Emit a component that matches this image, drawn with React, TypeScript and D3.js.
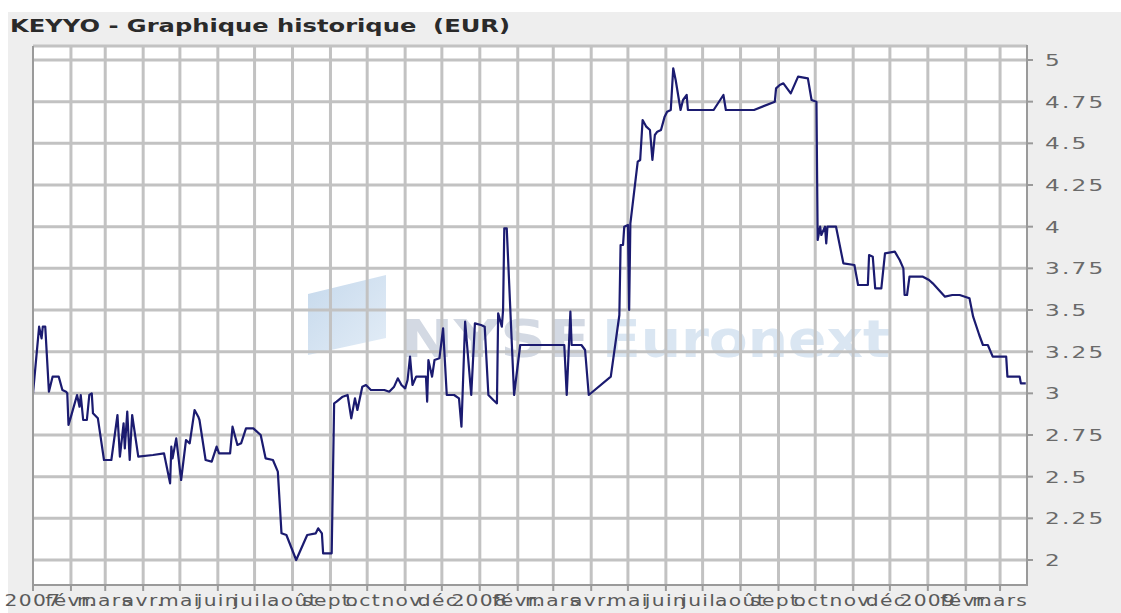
import React from 'react';
import * as d3 from 'd3';

// KEYYO close prices
const dates = [
  '2007-01-01', '2007-01-06', '2007-01-08', '2007-01-09', '2007-01-11', '2007-01-14', '2007-01-17', '2007-01-22', '2007-01-25', '2007-01-28', '2007-01-29', '2007-01-30',
  '2007-02-01', '2007-02-06', '2007-02-08', '2007-02-09', '2007-02-11', '2007-02-14', '2007-02-16', '2007-02-18', '2007-02-19', '2007-02-23', '2007-02-28',
  '2007-03-06', '2007-03-11', '2007-03-13', '2007-03-16', '2007-03-17', '2007-03-19', '2007-03-21', '2007-03-23', '2007-03-28',
  '2007-04-09', '2007-04-18', '2007-04-23', '2007-04-24', '2007-04-25', '2007-04-28',
  '2007-05-02', '2007-05-06', '2007-05-09', '2007-05-13', '2007-05-16', '2007-05-17', '2007-05-22', '2007-05-27', '2007-05-31',
  '2007-06-02', '2007-06-11', '2007-06-13', '2007-06-17', '2007-06-20', '2007-06-24', '2007-06-30',
  '2007-07-06', '2007-07-10', '2007-07-16', '2007-07-20', '2007-07-23', '2007-07-27',
  '2007-08-04', '2007-08-13', '2007-08-20', '2007-08-22', '2007-08-25', '2007-08-26',
  '2007-09-02', '2007-09-04', '2007-09-06', '2007-09-11', '2007-09-15', '2007-09-18', '2007-09-21', '2007-09-23', '2007-09-27', '2007-09-30',
  '2007-10-04', '2007-10-15', '2007-10-19', '2007-10-23', '2007-10-26', '2007-10-29',
  '2007-11-01', '2007-11-03', '2007-11-05', '2007-11-07', '2007-11-10', '2007-11-18', '2007-11-19', '2007-11-20', '2007-11-23', '2007-11-25', '2007-11-29',
  '2007-12-02', '2007-12-05', '2007-12-11', '2007-12-15', '2007-12-17', '2007-12-20', '2007-12-25', '2007-12-28',
  '2008-01-02', '2008-01-05', '2008-01-08', '2008-01-12', '2008-01-15', '2008-01-16', '2008-01-19', '2008-01-20', '2008-01-21', '2008-01-23', '2008-01-29',
  '2008-02-03', '2008-03-10', '2008-03-12', '2008-03-15', '2008-03-16', '2008-03-24', '2008-03-27', '2008-03-30',
  '2008-04-17', '2008-04-24', '2008-04-25', '2008-04-27', '2008-04-28',
  '2008-05-01', '2008-05-02', '2008-05-03', '2008-05-09', '2008-05-11', '2008-05-13', '2008-05-16', '2008-05-19', '2008-05-21', '2008-05-23', '2008-05-25', '2008-05-28', '2008-05-31',
  '2008-06-02', '2008-06-05', '2008-06-07', '2008-06-09', '2008-06-13', '2008-06-15', '2008-06-18', '2008-06-19',
  '2008-07-10', '2008-07-18', '2008-07-20', '2008-08-12', '2008-08-29', '2008-08-30',
  '2008-09-02', '2008-09-05', '2008-09-08', '2008-09-11', '2008-09-17', '2008-09-25', '2008-09-28',
  '2008-10-02', '2008-10-03', '2008-10-05', '2008-10-06', '2008-10-09', '2008-10-10', '2008-10-11', '2008-10-18', '2008-10-24',
  '2008-11-02', '2008-11-05', '2008-11-13', '2008-11-14', '2008-11-17', '2008-11-19', '2008-11-24', '2008-11-27',
  '2008-12-05', '2008-12-09', '2008-12-12', '2008-12-13', '2008-12-15', '2008-12-17', '2008-12-28',
  '2009-01-02', '2009-01-05', '2009-01-15', '2009-01-21', '2009-01-27',
  '2009-02-04', '2009-02-07', '2009-02-12', '2009-02-15', '2009-02-19', '2009-02-23',
  '2009-03-06', '2009-03-07', '2009-03-17', '2009-03-18', '2009-03-22'
];

const prices = [
  3.00, 3.40, 3.33, 3.40, 3.40, 3.01, 3.10, 3.10, 3.02, 3.01, 3.00, 2.81,
  2.86, 2.99, 2.92, 2.99, 2.84, 2.84, 2.99, 3.00, 2.88, 2.85, 2.60,
  2.60, 2.87, 2.62, 2.82, 2.67, 2.89, 2.60, 2.87, 2.62,
  2.63, 2.64, 2.46, 2.68, 2.61, 2.73,
  2.48, 2.72, 2.70, 2.90, 2.86, 2.84, 2.60, 2.59, 2.68,
  2.64, 2.64, 2.80, 2.69, 2.70, 2.79, 2.79,
  2.75, 2.61, 2.60, 2.53, 2.16, 2.15,
  2.00, 2.15, 2.16, 2.19, 2.16, 2.04,
  2.04, 2.94, 2.95, 2.98, 2.99, 2.85, 2.97, 2.90, 3.04, 3.05,
  3.02, 3.02, 3.01, 3.04, 3.09, 3.05,
  3.03, 3.08, 3.22, 3.05, 3.10, 3.10, 2.95, 3.20, 3.10, 3.20, 3.21,
  3.39, 2.99, 2.99, 2.97, 2.80, 3.43, 2.99, 3.42,
  3.41, 3.40, 2.99, 2.96, 2.94, 3.48, 3.40, 3.50, 3.99, 3.99, 2.99,
  3.29, 3.29, 2.99, 3.49, 3.29, 3.29, 3.26, 2.99,
  3.10, 3.47, 3.89, 3.89, 4.00,
  4.01, 3.50, 4.02, 4.39, 4.40, 4.64, 4.60, 4.58, 4.40, 4.55, 4.57, 4.58, 4.66,
  4.69, 4.70, 4.95, 4.88, 4.70, 4.76, 4.79, 4.70,
  4.70, 4.79, 4.70, 4.70, 4.75, 4.83,
  4.85, 4.86, 4.83, 4.80, 4.90, 4.89, 4.76,
  4.75, 3.92, 4.00, 3.95, 4.00, 3.90, 4.00, 4.00, 3.78,
  3.77, 3.65, 3.65, 3.83, 3.82, 3.63, 3.63, 3.84,
  3.85, 3.80, 3.75, 3.59, 3.59, 3.70, 3.70,
  3.68, 3.66, 3.58, 3.59, 3.59,
  3.57, 3.46, 3.35, 3.29, 3.29, 3.22,
  3.22, 3.10, 3.10, 3.06, 3.06
];

const yTicks = [2, 2.25, 2.5, 2.75, 3, 3.25, 3.5, 3.75, 4, 4.25, 4.5, 4.75, 5];

const monthLabels = [
  '2007', 'févr.', 'mars', 'avr.', 'mai', 'juin', 'juil.', 'août', 'sept.', 'oct.', 'nov.', 'déc.',
  '2008', 'févr.', 'mars', 'avr.', 'mai', 'juin', 'juil.', 'août', 'sept.', 'oct.', 'nov.', 'déc.',
  '2009', 'févr.', 'mars'
];

const title = 'KEYYO - Graphique historique  (EUR)';

const W = 1121;
const H = 613;
const margin = { top: 46, right: 94, bottom: 28, left: 33 };
const font = 'DejaVu Sans, sans-serif';

export default function App() {
  const parse = d3.timeParse('%Y-%m-%d');
  const data = dates.map((d, i) => ({ date: parse(d) as Date, value: prices[i] }));

  const left = margin.left;
  const right = W - margin.right;
  const plotTop = margin.top;
  const plotBottom = H - margin.bottom;

  const x = d3.scaleTime()
    .domain([new Date(2007, 0, 1), new Date(2009, 2, 23)])
    .range([left, right]);
  const y = d3.scaleLinear().domain([1.85, 5.084]).range([plotBottom, plotTop]);
  const months = d3.timeMonth.range(new Date(2007, 0, 1), new Date(2009, 2, 2));

  const line = d3.line<{ date: Date; value: number }>()
    .x((d) => x(d.date))
    .y((d) => y(d.value));

  // one path for the whole grid
  const grid = d3.path();
  months.slice(1).forEach((m) => {
    grid.moveTo(x(m), plotTop);
    grid.lineTo(x(m), plotBottom);
  });
  yTicks.map((v) => y(v)).concat([plotTop]).forEach((gy) => {
    grid.moveTo(left, gy);
    grid.lineTo(right, gy);
  });

  const axisColor = '#9a9a9a';

  return (
    <svg width={W} height={H} style={{ position: 'absolute', left: 0, top: 0 }}>
      <defs>
        <linearGradient id="wmGrad" x1="0" y1="0" x2="1" y2="1">
          <stop offset="0" stopColor="#c6d9ec" />
          <stop offset="1" stopColor="#e3edf7" />
        </linearGradient>
      </defs>

      {/* gray panel with a thin white edge */}
      <rect width={W} height={H} fill="#ffffff" />
      <rect x={8} y={12} width={W - 8} height={H - 12} fill="#eeeeee" />

      <text
        x={10}
        y={32}
        textLength={500}
        lengthAdjust="spacingAndGlyphs"
        fontFamily={font}
        fontWeight="bold"
        fontSize={17}
        fill="#2a2a2a"
        style={{ whiteSpace: 'pre' }}
      >
        {title}
      </text>

      <rect x={left} y={plotTop} width={right - left} height={plotBottom - plotTop} fill="#ffffff" />

      {/* watermark */}
      <g>
        <polygon points="308,294 386,275 386,338 308,355" fill="url(#wmGrad)" />
        <text x={400} y={357} textLength={190} lengthAdjust="spacingAndGlyphs"
          fontFamily={font} fontWeight="bold" fontSize={52} fill="#d3d9e3">NYSE</text>
        <text x={602} y={357} textLength={288} lengthAdjust="spacingAndGlyphs"
          fontFamily={font} fontWeight="bold" fontSize={52} fill="#dae6f2">Euronext</text>
      </g>

      {/* grid */}
      <path d={grid.toString()} fill="none" stroke="#c2c2c2" strokeWidth={3} />

      {/* price line */}
      <path
        d={line(data) || ''}
        fill="none"
        stroke="#1b1b70"
        strokeWidth={2.2}
        strokeLinejoin="round"
      />

      {/* axes frame and ticks */}
      <g stroke={axisColor} strokeWidth={2}>
        <line x1={left} x2={left} y1={plotTop} y2={plotBottom} />
        <line x1={right} x2={right} y1={plotTop - 1} y2={plotBottom + 1} />
        <line x1={left} x2={right} y1={plotBottom} y2={plotBottom} />
        {yTicks.map((v, i) => (
          <line key={'yt' + i} x1={right} x2={right + 6} y1={y(v)} y2={y(v)} />
        ))}
        {months.map((m, i) => (
          <line key={'xt' + i} x1={x(m)} x2={x(m)} y1={plotBottom} y2={plotBottom + 6} />
        ))}
      </g>

      {/* right axis labels */}
      <g fontFamily={font} fontSize={16} fill="#6a6a6a" letterSpacing={1.5}>
        {yTicks.map((v, i) => (
          <text key={'yl' + i} transform={`translate(${right + 18},${y(v) + 6}) scale(1.45,1)`}>
            {String(v)}
          </text>
        ))}
      </g>

      {/* month labels centred on their ticks; they overlap as in the source */}
      <g fontFamily={font} fontSize={15} fill="#5a5a5a" letterSpacing={1} textAnchor="middle">
        {months.map((m, i) => (
          <text key={'ml' + i} transform={`translate(${x(m)},${plotBottom + 21}) scale(1.35,1)`}>
            {monthLabels[i]}
          </text>
        ))}
      </g>
    </svg>
  );
}
